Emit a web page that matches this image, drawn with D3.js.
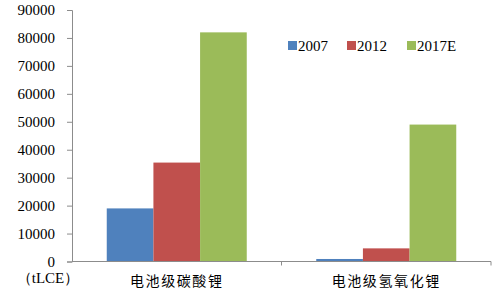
<!DOCTYPE html>
<meta charset="utf-8">
<script src="https://d3js.org/d3.v7.min.js"></script>
<style>
  body { margin: 0; background: #fff; }
</style>
<div id="chart"></div>
<script>
  // categories, series and values
  const categories = ["电池级碳酸锂", "电池级氢氧化锂"]
  const seriesNames = ["2007", "2012", "2017E"]
  const values2007 = [19000, 900]
  const values2012 = [35400, 4700]
  const values2017E = [82000, 49000]
  const yTicks = [0, 10000, 20000, 30000, 40000, 50000, 60000, 70000, 80000, 90000]

  const width = 494, height = 291
  const margin = {left: 72, right: 3, top: 10, bottom: 29.5}
  const colors = ["#4F81BD", "#C0504D", "#9BBB59"]

  const svg = d3.select("#chart").append("svg")
    .attr("width", width)
    .attr("height", height)

  const x = d3.scaleBand()
    .domain(categories)
    .range([margin.left, width - margin.right])

  const inner = d3.scaleBand()
    .domain(seriesNames)
    .range([0, 140])

  const y = d3.scaleLinear()
    .domain([0, 90000])
    .range([height - margin.bottom, margin.top])

  const rows = []
  categories.forEach((c, i) => {
    rows.push({cat: c, s: "2007", v: values2007[i]})
    rows.push({cat: c, s: "2012", v: values2012[i]})
    rows.push({cat: c, s: "2017E", v: values2017E[i]})
  })

  const color = d3.scaleOrdinal().domain(seriesNames).range(colors)

  // bars
  svg.append("g")
    .selectAll("rect")
    .data(rows)
    .join("rect")
      .attr("x", d => x(d.cat) + x.bandwidth() / 2 - 70 + inner(d.s))
      .attr("y", d => y(d.v))
      .attr("width", inner.bandwidth())
      .attr("height", d => y(0) - y(d.v))
      .attr("fill", d => color(d.s))

  // y axis
  const yAxis = svg.append("g")
    .attr("transform", `translate(${margin.left},0)`)
    .call(d3.axisLeft(y).tickValues(yTicks).tickSize(5).tickPadding(12).tickFormat(d3.format("d")))
  yAxis.select(".domain").attr("stroke", "#8c8c8c")
  yAxis.selectAll(".tick line").attr("stroke", "#8c8c8c")
  yAxis.selectAll("text")
    .attr("font-family", "'Liberation Serif', serif")
    .attr("font-size", 15)
    .attr("fill", "#000")

  // x axis
  const xAxis = svg.append("g")
    .attr("transform", `translate(0,${y(0)})`)
    .call(d3.axisBottom(x).tickSize(0).tickPadding(0).tickFormat(""))
  xAxis.select(".domain").remove()
  svg.append("line")
    .attr("x1", margin.left).attr("x2", width - margin.right)
    .attr("y1", y(0)).attr("y2", y(0))
    .attr("stroke", "#8c8c8c")
  // category separators
  svg.append("g")
    .selectAll("line")
    .data(categories.slice(1).map(c => x(c)).concat([width - margin.right]))
    .join("line")
      .attr("x1", d => d).attr("x2", d => d)
      .attr("y1", y(0)).attr("y2", y(0) + 4)
      .attr("stroke", "#8c8c8c")

  svg.append("g")
    .selectAll("text")
    .data(categories)
    .join("text")
      .attr("x", d => x(d) + x.bandwidth() / 2)
      .attr("y", y(0) + 24)
      .attr("text-anchor", "middle")
      .attr("font-family", "'Noto Sans CJK SC', sans-serif")
      .attr("font-size", 14)
      .attr("letter-spacing", 1.6)
      .text(d => d)

  // unit label
  svg.append("text")
    .attr("x", 48)
    .attr("y", y(0) + 21)
    .attr("text-anchor", "middle")
    .attr("font-family", "'Liberation Serif', serif")
    .attr("font-size", 15)
    .text("（tLCE）")

  // legend
  const legendX = [288, 347, 407]
  const legend = svg.append("g")
    .selectAll("g")
    .data(seriesNames)
    .join("g")
      .attr("transform", (d, i) => `translate(${legendX[i]},41)`)
  legend.append("rect")
    .attr("width", 9).attr("height", 9)
    .attr("fill", d => color(d))
  legend.append("text")
    .attr("x", 10)
    .attr("y", 10)
    .attr("font-family", "'Liberation Serif', serif")
    .attr("font-size", 15)
    .text(d => d)
</script>
